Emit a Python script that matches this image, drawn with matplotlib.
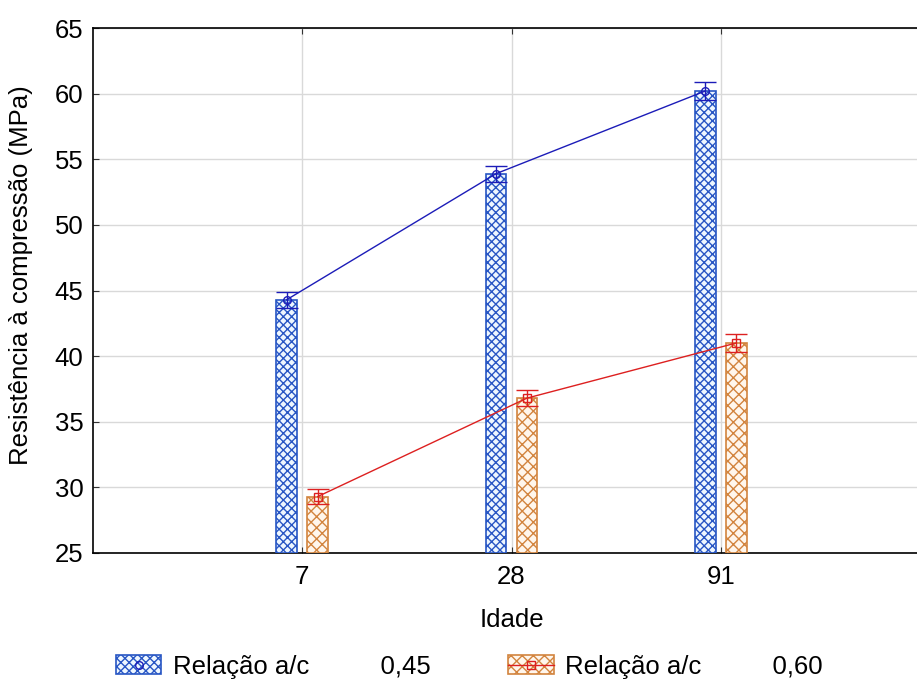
import numpy as np
import matplotlib
matplotlib.use('Agg')
import matplotlib.pyplot as plt
from matplotlib.patches import Rectangle
from matplotlib.lines import Line2D

plt.rcParams['font.family'] = ['Liberation Sans', 'DejaVu Sans']
plt.rcParams['hatch.linewidth'] = 1.0

idades = ['7', '28', '91']
media_045 = [44.3, 53.9, 60.2]
erro_045 = [0.6, 0.6, 0.65]
media_060 = [29.3, 36.8, 41.0]
erro_060 = [0.6, 0.6, 0.65]
rotulos = ['Relação a/c          0,45', 'Relação a/c          0,60']

azul_borda = '#2856c4'
azul_linha = '#1c1cb8'
lar_borda = '#d2843e'
verm_linha = '#dd2020'

fig = plt.figure(figsize=(9.17, 6.86), dpi=100)
ax = fig.add_axes([93/917, 1 - 553/686, 837/917, 525/686])

x = np.arange(len(idades))
off = 0.074
w = 0.1

ax.bar(x - off, np.array(media_045) - 25, w, bottom=25, facecolor='#eef7ff',
       edgecolor=azul_borda, hatch='xxxx', linewidth=1.2, zorder=3)
ax.bar(x + off, np.array(media_060) - 25, w, bottom=25, facecolor='#fff6ec',
       edgecolor=lar_borda, hatch='xxx', linewidth=1.2, zorder=3)

ax.errorbar(x - off, media_045, yerr=erro_045, color=azul_linha, marker='o',
            markersize=5.5, markerfacecolor='none', linewidth=1, capsize=8,
            capthick=1, elinewidth=1, zorder=4)
ax.errorbar(x + off, media_060, yerr=erro_060, color=verm_linha, marker='s',
            markersize=5.5, markerfacecolor='none', linewidth=1, capsize=8,
            capthick=1, elinewidth=1, zorder=4)

ax.set_xlim(-1, 3)
ax.set_ylim(25, 65)
ax.set_xticks(x)
ax.set_xticklabels(idades)
ax.set_yticks(np.arange(25, 66, 5))
ax.grid(True, color='#d9d9d9', linewidth=1, zorder=0)
ax.set_axisbelow(True)
ax.tick_params(direction='in', length=4, labelsize=18.5, top=True, right=True, color='#333333')
ax.tick_params(axis='y', pad=7)
ax.tick_params(axis='x', pad=9)
for s in ax.spines.values():
    s.set_linewidth(1.2)

ax.set_xlabel('Idade', fontsize=18.5)
ax.xaxis.set_label_coords(0.5, -0.105)
ax.set_ylabel('Resistência à compressão (MPa)', fontsize=18.5)
ax.yaxis.set_label_coords(-0.072, 0.53)

h1 = (Rectangle((0, 0), 1, 1, facecolor='#eef7ff', edgecolor=azul_borda, hatch='xxxx', linewidth=1.2),
      Line2D([], [], color=azul_linha, marker='o', markersize=5.5, markerfacecolor='none', linewidth=0))
h2 = (Rectangle((0, 0), 1, 1, facecolor='#fff6ec', edgecolor=lar_borda, hatch='xxx', linewidth=1.2),
      Line2D([], [], color=verm_linha, marker='s', markersize=5.5, markerfacecolor='none', linewidth=1))
fig.legend([h1, h2], rotulos, loc='center', bbox_to_anchor=(0.512, 0.028), ncol=2,
           frameon=False, fontsize=18.5, handlelength=1.77, handleheight=0.77,
           handletextpad=0.46, columnspacing=3.0, borderaxespad=0)

fig.savefig('out.png', dpi=100)
